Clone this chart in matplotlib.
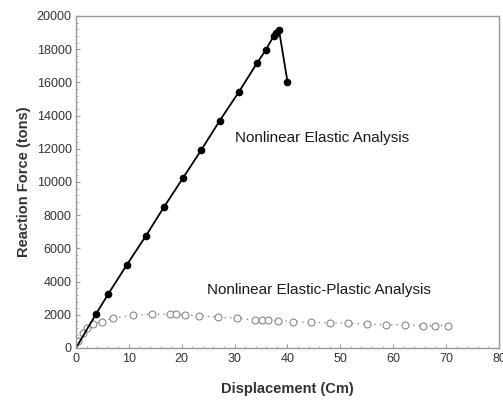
import matplotlib
matplotlib.use("Agg")
import matplotlib.pyplot as plt
from matplotlib.ticker import MultipleLocator

plt.rcParams["font.family"] = ["Liberation Sans", "DejaVu Sans"]

# nonlinear elastic analysis (filled markers, solid line)
elastic_disp = [0.0, 3.8, 6.1, 9.6, 13.2, 16.6, 20.2, 23.7, 27.2, 30.8, 34.3,
                35.9, 37.4, 37.9, 38.4, 40.0]
elastic_force = [0, 2050, 3250, 5000, 6740, 8470, 10220, 11930, 13700, 15420,
                 17190, 17950, 18800, 19000, 19150, 16050]

# nonlinear elastic-plastic analysis (open markers, dotted line)
plastic_disp = [0.3, 1.4, 2.1, 3.3, 4.9, 7.0, 10.7, 14.3, 17.8, 19.0, 20.6,
                23.3, 26.9, 30.5, 33.8, 35.1, 36.4, 38.2, 41.1, 44.5, 48.0,
                51.5, 55.1, 58.7, 62.2, 65.6, 67.9, 70.4]
plastic_force = [440, 880, 1180, 1450, 1590, 1790, 1990, 2030, 2030, 2030, 1990,
                 1950, 1850, 1790, 1690, 1690, 1690, 1650, 1590, 1540, 1520,
                 1480, 1450, 1410, 1390, 1350, 1350, 1350]

fig = plt.figure(figsize=(5.03, 4.0), dpi=100)
ax = fig.add_axes([0.151, 0.13, 0.841, 0.83])

ax.plot(plastic_disp, plastic_force, linestyle=(0, (1, 3)), color="#888888",
        linewidth=1.0, marker="o", markersize=5, markerfacecolor="white",
        markeredgecolor="#888888", markeredgewidth=0.8)
ax.plot(elastic_disp, elastic_force, color="black", linewidth=1.3,
        marker="o", markersize=4.5, markevery=slice(1, None))

ax.text(46.5, 12650, "Nonlinear Elastic Analysis", ha="center", va="center",
        fontsize=11, color="#1a1a1a")
ax.text(46.0, 3500, "Nonlinear Elastic-Plastic Analysis", ha="center",
        va="center", fontsize=11, color="#1a1a1a")

ax.set_xlim(0, 80)
ax.set_ylim(0, 20000)
ax.xaxis.set_major_locator(MultipleLocator(10))
ax.xaxis.set_minor_locator(MultipleLocator(2))
ax.yaxis.set_major_locator(MultipleLocator(2000))
ax.yaxis.set_minor_locator(MultipleLocator(400))
ax.tick_params(which="both", direction="in", color="#999999",
               labelsize=9, labelcolor="#333333", top=False, right=False)
ax.tick_params(which="major", length=3)
ax.tick_params(which="minor", length=1.5)
ax.tick_params(axis="y", pad=3)
for spine in ax.spines.values():
    spine.set_color("#999999")
    spine.set_linewidth(1.0)

ax.set_xlabel("Displacement (Cm)", fontsize=10.5, fontweight="bold",
              color="#333333", labelpad=12)
ax.set_ylabel("Reaction Force (tons)", fontsize=10.5, fontweight="bold",
              color="#333333", labelpad=4)

fig.savefig("out.png", dpi=100)
